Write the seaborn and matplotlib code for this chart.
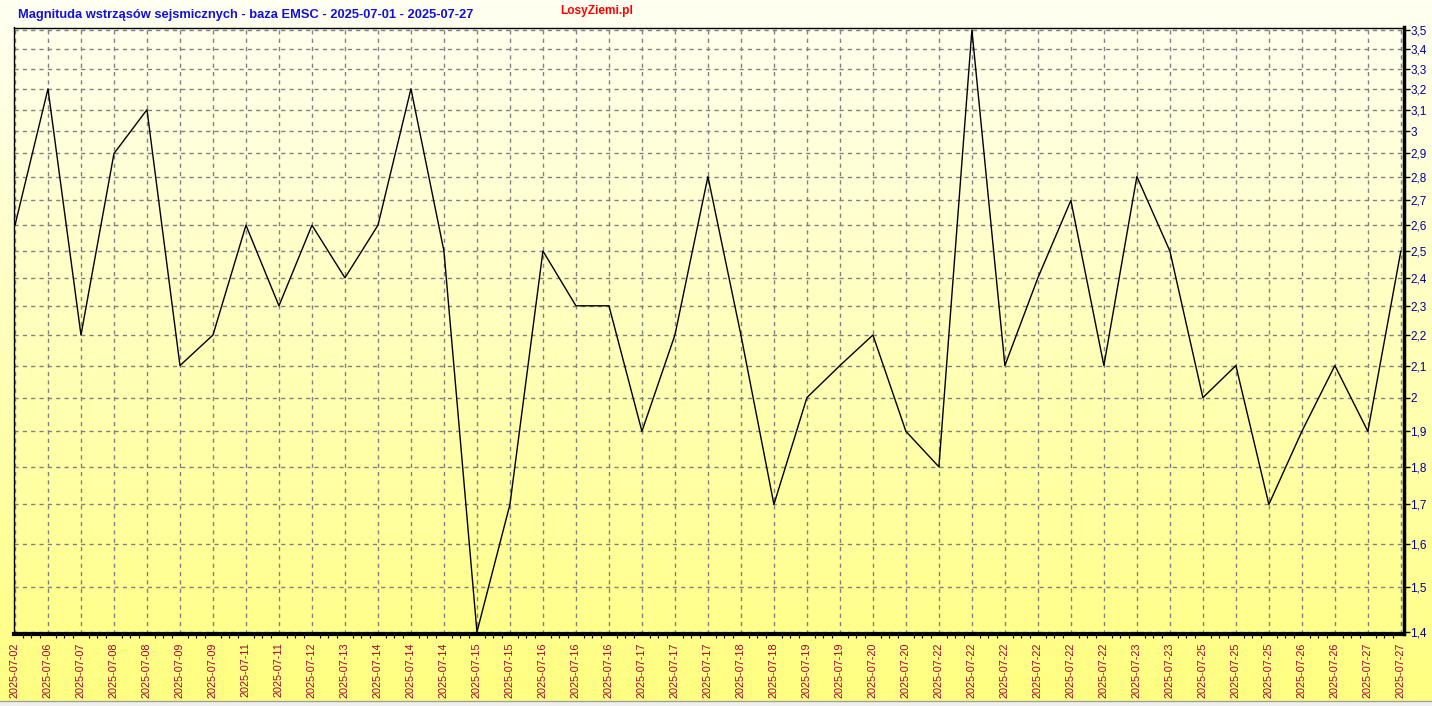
import numpy as np
import pandas as pd
import matplotlib
matplotlib.use("Agg")
import matplotlib.pyplot as plt
import seaborn as sns
from matplotlib.ticker import FixedLocator, NullLocator

# event dates (x tick labels) and magnitudes
dates = [
    "2025-07-02", "2025-07-06", "2025-07-07", "2025-07-08", "2025-07-08",
    "2025-07-09", "2025-07-09", "2025-07-11", "2025-07-11", "2025-07-12",
    "2025-07-13", "2025-07-14", "2025-07-14", "2025-07-14", "2025-07-15",
    "2025-07-15", "2025-07-16", "2025-07-16", "2025-07-16", "2025-07-17",
    "2025-07-17", "2025-07-17", "2025-07-18", "2025-07-18", "2025-07-19",
    "2025-07-19", "2025-07-20", "2025-07-20", "2025-07-22", "2025-07-22",
    "2025-07-22", "2025-07-22", "2025-07-22", "2025-07-22", "2025-07-23",
    "2025-07-23", "2025-07-25", "2025-07-25", "2025-07-25", "2025-07-26",
    "2025-07-26", "2025-07-27", "2025-07-27",
]
magnitudes = [
    2.6, 3.2, 2.2, 2.9, 3.1, 2.1, 2.2, 2.6, 2.3, 2.6,
    2.4, 2.6, 3.2, 2.5, 1.4, 1.7, 2.5, 2.3, 2.3, 1.9,
    2.2, 2.8, 2.2, 1.7, 2.0, 2.1, 2.2, 1.9, 1.8, 3.5,
    2.1, 2.4, 2.7, 2.1, 2.8, 2.5, 2.0, 2.1, 1.7, 1.9,
    2.1, 1.9, 2.5,
]
y_ticks = [1.4, 1.5, 1.6, 1.7, 1.8, 1.9, 2.0, 2.1, 2.2, 2.3, 2.4,
           2.5, 2.6, 2.7, 2.8, 2.9, 3.0, 3.1, 3.2, 3.3, 3.4, 3.5]

title = "Magnituda wstrząsów sejsmicznych - baza EMSC - 2025-07-01 - 2025-07-27"
site = "LosyZiemi.pl"

df = pd.DataFrame({"idx": np.arange(len(dates)), "Magnituda": magnitudes})

sns.set_style("white")
plt.rcParams["font.family"] = ["Liberation Sans", "DejaVu Sans"]

W, H = 1432, 706
fig = plt.figure(figsize=(W / 100, H / 100), dpi=100)

# white -> yellow background over the whole picture
bg = fig.add_axes([0, 0, 1, 1], zorder=-10)
grad = np.linspace(0, 1, 256)[:, None]
cols = np.array([1.0, 1.0, 0.95])[None, None, :] * (1 - grad[..., None]) + \
       np.array([1.0, 1.0, 0.5])[None, None, :] * grad[..., None]
bg.imshow(cols, aspect="auto", extent=[0, 1, 0, 1])
bg.set_axis_off()

# gray window strip at the very bottom
strip = fig.add_axes([0, 0, 1, 5 / H], zorder=-5)
strip.set_facecolor("#f0f0f0")
strip.set_xticks([])
strip.set_yticks([])
for s in strip.spines.values():
    s.set_visible(False)
fig.add_artist(plt.Line2D([0, 1], [5 / H, 5 / H], color="#a0a0a0", lw=1))

left, right, top, bottom = 13.5, 1403.5, 27.5, 634
ax = fig.add_axes([left / W, 1 - bottom / H, (right - left) / W, (bottom - top) / H])
ax.patch.set_alpha(0)

sns.lineplot(data=df, x="idx", y="Magnituda", ax=ax, color="black", linewidth=1)

ax.set_yscale("log")
ax.set_ylim(1.3957, 3.513)
ax.set_xlim(-0.045, len(dates) - 1 + 0.08)

ax.yaxis.set_major_locator(FixedLocator(y_ticks))
ax.yaxis.set_minor_locator(NullLocator())
ax.set_yticklabels([("%g" % v).replace(".", ",") for v in y_ticks])
ax.yaxis.tick_right()
ax.tick_params(axis="y", which="major", length=4, width=1, color="black",
               labelsize=8.5, labelcolor="#000099", pad=1, right=True, left=False)

ax.set_xticks(df["idx"])
ax.set_xticklabels(dates, rotation=90)
ax.set_xticks(np.arange(0, len(dates) - 1, 0.25), minor=True)
ax.tick_params(axis="x", which="major", length=4, width=1, color="black",
               labelsize=7.8, labelcolor="#a00030", pad=2)
ax.tick_params(axis="x", which="minor", length=3, width=0.8, color="black", bottom=True)

ax.grid(True, which="major", color="#808080", linestyle=(0, (3, 3)), linewidth=1)
ax.set_xlabel("")
ax.set_ylabel("")

ax.spines["left"].set_linewidth(1)
ax.spines["top"].set_linewidth(1)
ax.spines["right"].set_linewidth(2.5)
ax.spines["bottom"].set_linewidth(3)
for s in ax.spines.values():
    s.set_color("black")

fig.text(18 / W, 1 - 15 / H, title, color="#1010e0", fontsize=9.3,
         fontweight="bold", ha="left", va="center")
fig.text(560 / W, 1 - 11 / H, site, color="#ff0000", fontsize=8.6,
         fontweight="bold", ha="left", va="center")

fig.savefig("out.png", dpi=100)
